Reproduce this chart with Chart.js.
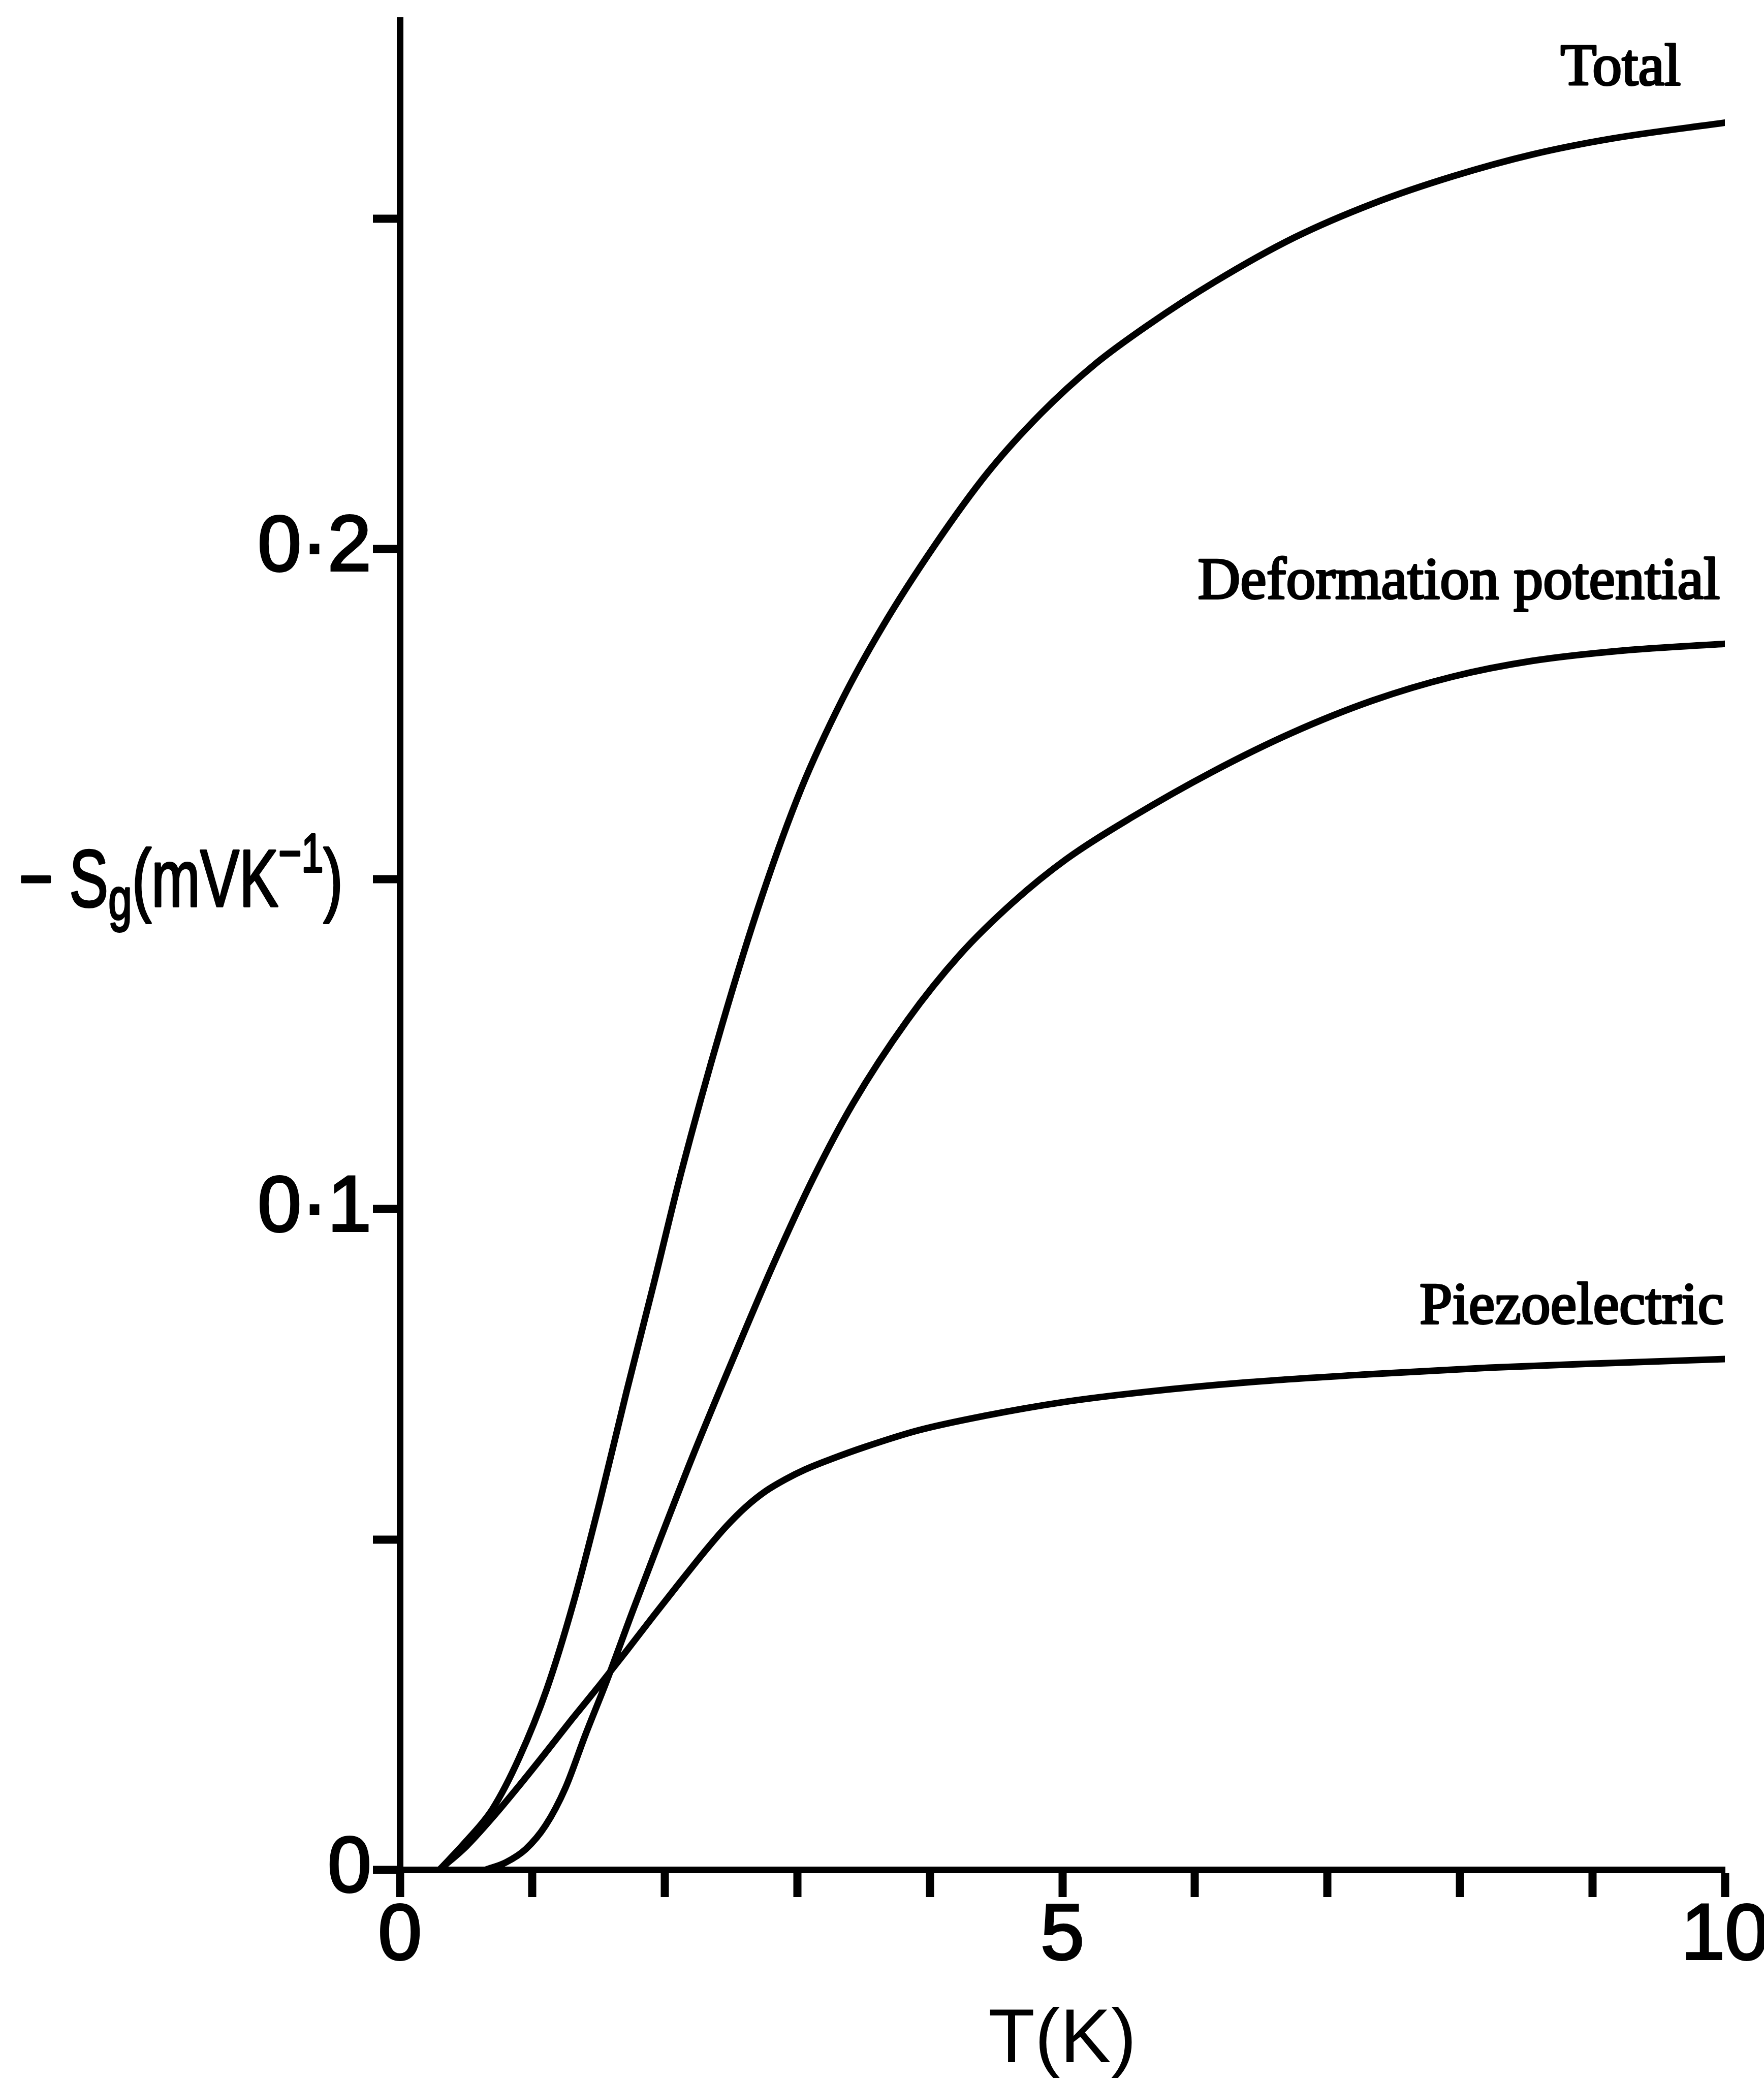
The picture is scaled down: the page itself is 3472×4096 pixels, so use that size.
<!DOCTYPE html>
<html lang="en">
<head>
    <meta charset="UTF-8">
    <title>Phonon drag thermopower</title>
    <script src="https://cdn.jsdelivr.net/npm/chart.js"></script>
    <style>
        * {
            margin: 0;
            padding: 0;
        }

        body {
            background: #ffffff;
            width: 3472px;
            height: 4096px;
            overflow: hidden;
        }

        #sgChart {
            display: block;
        }
    </style>
</head>
<body>
    <canvas id="sgChart" width="3472" height="4096"></canvas>

    <script>
        // Values: T in K, -Sg in mV/K
        const totalT = [0.3, 0.5, 0.7, 0.9, 1.11, 1.31, 1.51, 1.71, 1.92, 2.12, 2.43, 2.73, 3.03, 3.34, 3.64, 4.04, 4.44, 4.84, 5.25, 5.65, 6.15, 6.75, 7.35, 7.95, 8.55, 9.15, 10.0];
        const totalS = [0, 0.0043, 0.0092, 0.0169, 0.0274, 0.0404, 0.0558, 0.0723, 0.0890, 0.1053, 0.1278, 0.1472, 0.1637, 0.1772, 0.1881, 0.2006, 0.2116, 0.2205, 0.2280, 0.2339, 0.2404, 0.2471, 0.2523, 0.2564, 0.2597, 0.2621, 0.2645];

        const deformT = [0.65, 0.8, 0.95, 1.1, 1.25, 1.4, 1.56, 1.76, 1.96, 2.21, 2.52, 2.82, 3.12, 3.42, 3.83, 4.23, 4.63, 5.03, 5.53, 6.13, 6.73, 7.34, 7.94, 8.54, 9.24, 10.0];
        const deformS = [0, 0.0011, 0.0031, 0.0067, 0.0124, 0.0204, 0.0285, 0.0393, 0.0498, 0.0626, 0.0776, 0.0917, 0.1047, 0.1160, 0.1286, 0.1386, 0.1465, 0.1530, 0.1594, 0.1662, 0.1721, 0.1770, 0.1806, 0.1830, 0.1846, 0.1856];

        const piezoT = [0.3, 0.5, 0.7, 0.9, 1.1, 1.3, 1.51, 1.71, 1.91, 2.11, 2.31, 2.46, 2.61, 2.76, 2.91, 3.06, 3.26, 3.51, 3.91, 4.41, 5.01, 5.61, 6.41, 7.31, 8.22, 9.12, 10.0];
        const piezoS = [0, 0.0035, 0.0079, 0.0127, 0.0177, 0.0228, 0.0280, 0.0331, 0.0383, 0.0434, 0.0484, 0.0519, 0.0549, 0.0573, 0.0591, 0.0606, 0.0622, 0.0640, 0.0665, 0.0687, 0.0708, 0.0723, 0.0738, 0.0750, 0.0760, 0.0767, 0.0773];

        // Curve labels and where they sit (right end, baseline) in data units
        const curveNames = ['Total', 'Deformation potential', 'Piezoelectric'];
        const nameT = [9.675, 9.97, 10.0];
        const nameS = [0.2702, 0.1925, 0.0827];

        const xLabelled = [0, 5, 10];
        const yLabels = { 0: '0', 10: '0\u00b71', 20: '0\u00b72' };

        const toPoints = (xs, ys) => xs.map((t, i) => ({ x: t, y: ys[i] }));

        // use a narrow sans for the hand-lettered axis text when it is installed
        function hasFont(name) {
            const c = document.createElement('canvas').getContext('2d');
            const probe = '0123456789 mVK(T)abcdefg';
            c.font = '100px monospace';
            const a = c.measureText(probe).width;
            c.font = '100px "' + name + '", monospace';
            return Math.abs(c.measureText(probe).width - a) > 0.5;
        }
        const sans = hasFont('Liberation Sans Narrow')
            ? '"Liberation Sans Narrow", "Liberation Sans", sans-serif'
            : '"Liberation Sans", Arial, sans-serif';
        const serif = '"Liberation Serif", "Times New Roman", serif';

        // curve names on the right, printed in serif type
        const curveNamesPlugin = {
            id: 'curveNames',
            afterDatasetsDraw(chart) {
                const ctx = chart.ctx;
                const xs = chart.scales.x;
                const ys = chart.scales.y;
                ctx.save();
                ctx.font = '116px ' + serif;
                ctx.fillStyle = '#000';
                ctx.strokeStyle = '#000';
                ctx.lineWidth = 4;
                ctx.lineJoin = 'round';
                ctx.textAlign = 'right';
                ctx.textBaseline = 'alphabetic';
                curveNames.forEach((name, i) => {
                    const px = xs.getPixelForValue(nameT[i]) - 2;
                    const py = ys.getPixelForValue(nameS[i]);
                    ctx.fillText(name, px, py);
                    ctx.strokeText(name, px, py);
                });
                ctx.restore();
            }
        };

        // horizontal y-axis title: -Sg(mVK^-1) with sub- and superscript
        const yTitlePlugin = {
            id: 'yTitle',
            afterDraw(chart) {
                const ctx = chart.ctx;
                const parts = [
                    { t: '\u2212 ', size: 160, dy: 0 },
                    { t: 'S', size: 160, dy: 0 },
                    { t: 'g', size: 116, dy: 26 },
                    { t: '(mVK', size: 160, dy: 0 },
                    { t: '\u22121', size: 108, dy: -68 },
                    { t: ')', size: 160, dy: 0 }
                ];
                const left = 37, right = 675, baseline = 1784;
                ctx.save();
                let natural = 0;
                parts.forEach(p => {
                    ctx.font = p.size + 'px ' + sans;
                    p.w = ctx.measureText(p.t).width;
                    natural += p.w;
                });
                const k = (right - left) / natural;
                ctx.translate(left, baseline);
                ctx.scale(k, 1);
                ctx.fillStyle = '#000';
                ctx.strokeStyle = '#000';
                ctx.lineWidth = 4;
                ctx.lineJoin = 'round';
                ctx.textAlign = 'left';
                ctx.textBaseline = 'alphabetic';
                let cx = 0;
                parts.forEach(p => {
                    ctx.font = p.size + 'px ' + sans;
                    ctx.fillText(p.t, cx, p.dy);
                    ctx.strokeText(p.t, cx, p.dy);
                    cx += p.w;
                });
                ctx.restore();
            }
        };

        const curveStyle = {
            borderColor: '#000',
            borderWidth: 13,
            pointRadius: 0,
            fill: false,
            cubicInterpolationMode: 'monotone',
            borderCapStyle: 'round',
            borderJoinStyle: 'round'
        };

        const tickFont = { family: sans, size: 155, lineHeight: 1 };

        new Chart(document.getElementById('sgChart'), {
            type: 'line',
            data: {
                datasets: [
                    { label: 'Total', data: toPoints(totalT, totalS), ...curveStyle },
                    { label: 'Deformation potential', data: toPoints(deformT, deformS), ...curveStyle },
                    { label: 'Piezoelectric', data: toPoints(piezoT, piezoS), ...curveStyle }
                ]
            },
            options: {
                responsive: false,
                devicePixelRatio: 1,
                animation: false,
                layout: {
                    padding: { top: 40, right: 77, bottom: 0, left: 0 }
                },
                plugins: {
                    legend: { display: false },
                    tooltip: { enabled: false }
                },
                scales: {
                    x: {
                        type: 'linear',
                        min: 0,
                        max: 10,
                        afterFit(scale) {
                            scale.height = 416;
                            scale.paddingLeft = 0;
                            scale.paddingRight = 0;
                        },
                        border: { display: true, color: '#000', width: 13 },
                        grid: {
                            drawOnChartArea: false,
                            drawTicks: true,
                            tickLength: 54,
                            tickWidth: 16,
                            tickColor: '#000'
                        },
                        ticks: {
                            stepSize: 1,
                            includeBounds: false,
                            autoSkip: false,
                            maxRotation: 0,
                            padding: 2,
                            color: '#000',
                            textStrokeColor: '#000',
                            textStrokeWidth: 4,
                            font: tickFont,
                            callback: v => xLabelled.includes(Math.round(v)) ? String(Math.round(v)) : ''
                        },
                        title: {
                            display: true,
                            text: 'T(K)',
                            color: '#000',
                            font: { family: sans, size: 150, lineHeight: 1 },
                            padding: { top: 0, bottom: 3 }
                        }
                    },
                    y: {
                        type: 'linear',
                        min: 0,
                        max: 0.28,
                        afterFit(scale) {
                            scale.width = 787;
                            scale.paddingTop = 0;
                            scale.paddingBottom = 0;
                        },
                        border: { display: true, color: '#000', width: 13 },
                        grid: {
                            drawOnChartArea: false,
                            drawTicks: true,
                            tickLength: 53,
                            tickWidth: 16,
                            tickColor: '#000'
                        },
                        ticks: {
                            stepSize: 0.05,
                            includeBounds: false,
                            autoSkip: false,
                            padding: 3,
                            color: '#000',
                            textStrokeColor: '#000',
                            textStrokeWidth: 4,
                            font: tickFont,
                            callback: v => yLabels[Math.round(v * 100)] || ''
                        }
                    }
                }
            },
            plugins: [curveNamesPlugin, yTitlePlugin]
        });
    </script>
</body>
</html>
